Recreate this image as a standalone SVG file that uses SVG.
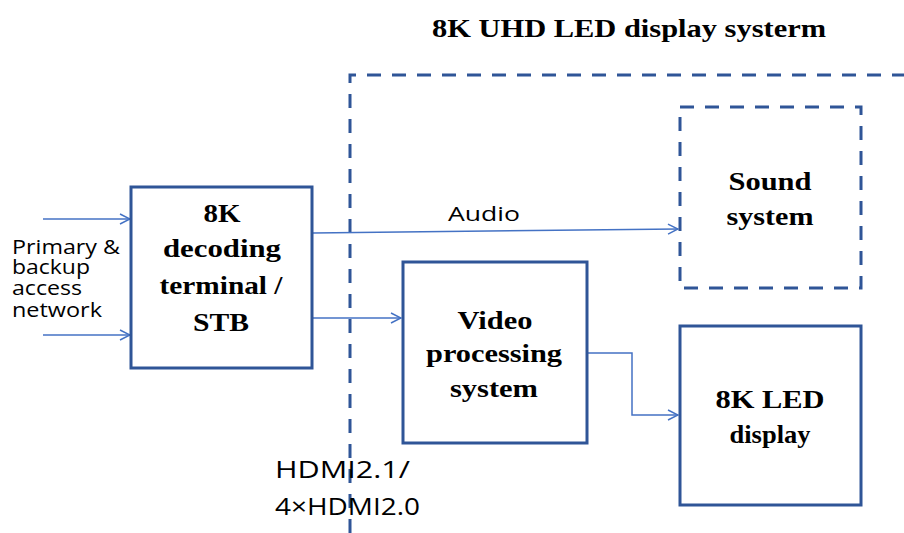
<svg xmlns="http://www.w3.org/2000/svg" width="904" height="533" viewBox="0 0 904 533">
<style>
.box{fill:none;stroke:#2F5597;stroke-width:3}
.dash{fill:none;stroke:#2F5597;stroke-width:3;stroke-dasharray:14 11}
.conn{fill:none;stroke:#4472C4;stroke-width:1.5}
.bt{font-family:"Liberation Serif","Times New Roman",serif;font-weight:bold;font-size:26px;fill:#000;text-anchor:middle}
.st{font-family:"Open Sans","Liberation Sans",sans-serif;font-size:20px;fill:#000}
.ht{font-family:"Open Sans","Liberation Sans",sans-serif;font-size:23px;fill:#000}
</style>
<defs>
<marker id="arr" markerWidth="12" markerHeight="12" refX="11" refY="6" orient="auto" markerUnits="userSpaceOnUse">
<path d="M1,1 L11,6 L1,11" fill="none" stroke="#4472C4" stroke-width="1.5"/>
</marker>
</defs>
<rect width="904" height="533" fill="#fff"/>
<text x="629" y="37" class="bt" font-size="27" textLength="394" lengthAdjust="spacingAndGlyphs">8K UHD LED display systerm</text>
<g id="system-boundary">
<path class="dash" d="M350,533 L350,75 L904,75"/>
</g>
<g id="connectors">
<line class="conn" x1="43" y1="219" x2="130" y2="219" marker-end="url(#arr)"/>
<line class="conn" x1="43" y1="335" x2="130" y2="335" marker-end="url(#arr)"/>
<line class="conn" x1="313" y1="233" x2="678" y2="229" marker-end="url(#arr)"/>
<line class="conn" x1="313" y1="318" x2="401" y2="318" marker-end="url(#arr)"/>
<polyline class="conn" points="587,353 632,353 632,415 678,415" marker-end="url(#arr)"/>
</g>
<g id="input-label">
<text class="st" x="12" y="254" textLength="108" lengthAdjust="spacingAndGlyphs">Primary &amp;</text>
<text class="st" x="12" y="274" textLength="78" lengthAdjust="spacingAndGlyphs">backup</text>
<text class="st" x="12" y="295" textLength="70" lengthAdjust="spacingAndGlyphs">access</text>
<text class="st" x="12" y="317" textLength="90" lengthAdjust="spacingAndGlyphs">network</text>
</g>
<g id="stb">
<rect class="box" x="131" y="187" width="181" height="181"/>
<text class="bt" x="222" y="222" textLength="37" lengthAdjust="spacingAndGlyphs">8K</text>
<text class="bt" x="222" y="257" textLength="118" lengthAdjust="spacingAndGlyphs">decoding</text>
<text class="bt" x="221" y="294" textLength="123" lengthAdjust="spacingAndGlyphs">terminal /</text>
<text class="bt" x="221" y="331" textLength="56" lengthAdjust="spacingAndGlyphs">STB</text>
</g>
<g id="audio-label">
<text class="st" x="448" y="221" textLength="72" lengthAdjust="spacingAndGlyphs">Audio</text>
</g>
<g id="video">
<rect class="box" x="403" y="262" width="184" height="181"/>
<text class="bt" x="495" y="329" textLength="75" lengthAdjust="spacingAndGlyphs">Video</text>
<text class="bt" x="494" y="362" textLength="136" lengthAdjust="spacingAndGlyphs">processing</text>
<text class="bt" x="494" y="397" textLength="88" lengthAdjust="spacingAndGlyphs">system</text>
</g>
<g id="sound">
<rect class="dash" x="680" y="107" width="181" height="181"/>
<text class="bt" x="770" y="190" textLength="83" lengthAdjust="spacingAndGlyphs">Sound</text>
<text class="bt" x="770" y="225" textLength="87" lengthAdjust="spacingAndGlyphs">system</text>
</g>
<g id="led">
<rect class="box" x="680" y="326" width="181" height="179"/>
<text class="bt" x="770" y="408" textLength="109" lengthAdjust="spacingAndGlyphs">8K LED</text>
<text class="bt" x="770" y="443" textLength="81" lengthAdjust="spacingAndGlyphs">display</text>
</g>
<g id="hdmi-label">
<text class="ht" x="275" y="478" textLength="135" lengthAdjust="spacingAndGlyphs">HDMI2.1/</text>
<text class="ht" x="275" y="515" textLength="145" lengthAdjust="spacingAndGlyphs">4×HDMI2.0</text>
</g>
</svg>
